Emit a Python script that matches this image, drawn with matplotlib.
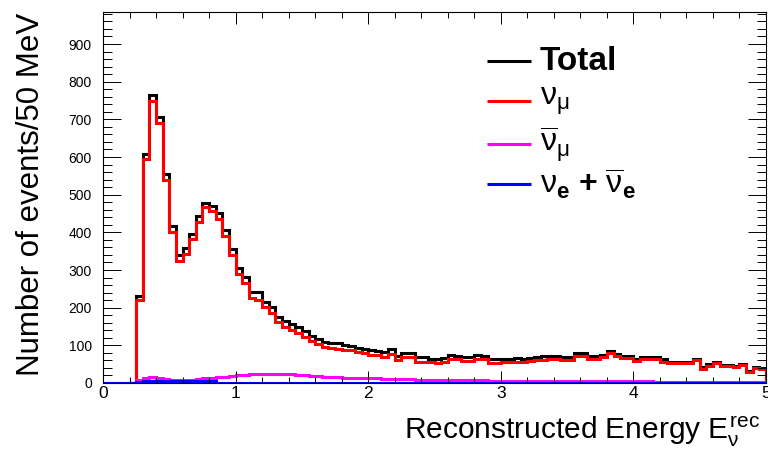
import numpy as np
import matplotlib
matplotlib.use('Agg')
import matplotlib.pyplot as plt
from matplotlib.ticker import MultipleLocator

plt.rcParams['font.family'] = ['Liberation Sans', 'DejaVu Sans']
plt.rcParams['mathtext.fontset'] = 'custom'
plt.rcParams['mathtext.rm'] = 'Liberation Sans'
plt.rcParams['mathtext.it'] = 'Liberation Sans'
plt.rcParams['mathtext.bf'] = 'Liberation Sans:bold'

# 50 MeV bins from 0 to 5 GeV
edges = np.round(np.arange(0, 5.0001, 0.05), 2)

# total (black)
total = [0, 0, 0, 0, 0,
         231, 607, 765, 705, 554, 417, 340, 358, 395, 443,
         478, 470, 451, 406, 356, 305, 282, 242, 242, 216,
         203, 176, 165, 157, 150, 138, 125, 116, 110, 106,
         105, 100, 98, 93, 91, 87, 85, 83, 89, 72,
         80, 79, 68, 68, 65, 64, 66, 74, 73, 68,
         68, 74, 73, 63, 63, 65, 65, 66, 65, 66,
         70, 71, 73, 73, 68, 68, 80, 79, 72, 72,
         75, 86, 78, 73, 72, 65, 70, 70, 70, 63,
         57, 57, 57, 57, 63, 42, 50, 55, 48, 47,
         45, 50, 33, 43, 40]

# nu_mu (red)
numu = [0, 0, 0, 0, 0,
        220, 594, 750, 690, 540, 402, 325, 342, 381, 428,
        466, 456, 436, 391, 341, 290, 266, 226, 221, 203,
        187, 163, 150, 141, 133, 123, 112, 103, 96, 93,
        91, 88, 87, 81, 80, 75, 74, 70, 77, 61,
        69, 68, 57, 57, 55, 54, 56, 63, 63, 58,
        58, 64, 63, 53, 53, 56, 56, 57, 57, 58,
        62, 62, 65, 65, 60, 60, 72, 71, 65, 65,
        68, 79, 72, 66, 66, 59, 63, 64, 64, 57,
        52, 52, 52, 52, 60, 38, 46, 52, 45, 44,
        42, 47, 30, 40, 37]

# anti nu_mu (magenta)
anumu = [0, 0, 0, 0, 0,
         8, 14, 15, 14, 11, 9, 8, 8, 9, 10,
         12, 13, 15, 17, 19, 21, 22, 23, 24, 25,
         25, 25, 24, 23, 22, 20, 19, 18, 17, 16,
         15, 14, 14, 13, 13, 12, 12, 11, 11, 10,
         10, 10, 9, 9, 9, 8, 8, 8, 8, 7,
         7, 7, 7, 6, 6, 6, 6, 5, 5, 5,
         5, 5, 5, 5, 5, 5, 5, 5, 5, 5,
         5, 5, 5, 5, 4, 4, 4, 4, 2, 2,
         2, 2, 2, 2, 2, 2, 2, 2, 2, 2,
         2, 2, 2, 2, 2]

# nu_e + anti nu_e (blue)
nue = [0, 0, 0, 0, 0,
       3, 5, 5, 5, 5, 5, 5, 5, 5, 5,
       5, 4] + [1] * 83

colors = ['black', '#ff0000', '#ff00ff', '#0000ff']
labels = ['Total', r'$\nu_{\mu}$', r'$\overline{\nu}_{\mu}$',
          r'$\nu_{\mathbf{e}}\ \mathbf{+}\ \overline{\nu}_{\mathbf{e}}$']

fig = plt.figure(figsize=(7.68, 4.55), dpi=100)
ax = fig.add_axes([103/768, 72/455, 663/768, 371/455])

lw = 2.2
for vals, c in zip([total, numu, anumu, nue], colors):
    ax.stairs(vals, edges, color=c, lw=lw)

ax.set_xlim(0, 5)
ax.set_ylim(0, 985)
ax.xaxis.set_major_locator(MultipleLocator(1))
ax.xaxis.set_minor_locator(MultipleLocator(0.2))
ax.yaxis.set_major_locator(MultipleLocator(100))
ax.yaxis.set_minor_locator(MultipleLocator(20))
ax.tick_params(which='both', direction='in', top=True, right=True, width=0.7)
ax.tick_params(axis='x', which='major', length=8.6, labelsize=12.5, pad=2)
ax.tick_params(axis='x', which='minor', length=4.4)
ax.tick_params(axis='y', which='major', length=13, labelsize=10, pad=8)
ax.tick_params(axis='y', which='minor', length=6.5)
for s in ax.spines.values():
    s.set_linewidth(0.8)

ax.set_xlabel(r'Reconstructed Energy $E_{\nu}^{rec}$', fontsize=21.5,
              ha='left', va='baseline')
ax.xaxis.set_label_coords((404-103)/663, (383-439)/371)
ax.set_ylabel('Number of events/50 MeV', fontsize=22.5, ha='right')
ax.yaxis.set_label_coords(-0.086, 0.997)

# legend drawn by hand, rows at fixed pixel heights
to_ax = lambda px, py: ((px - 103) / 663, (383 - py) / 371)
for lab, c, py in zip(labels, colors, [61, 101, 144, 184]):
    x0, y0 = to_ax(487, py)
    x1, _ = to_ax(531, py)
    ax.plot([x0, x1], [y0, y0], color=c, lw=lw, transform=ax.transAxes,
            solid_capstyle='butt')
    xt, _ = to_ax(540, py)
    t = ax.text(xt, y0, lab, transform=ax.transAxes, fontsize=23,
                ha='left', va='center')
    if lab == 'Total':
        t.set_fontweight('bold')
        t.set_fontsize(24)

fig.savefig('out.png', dpi=100)
